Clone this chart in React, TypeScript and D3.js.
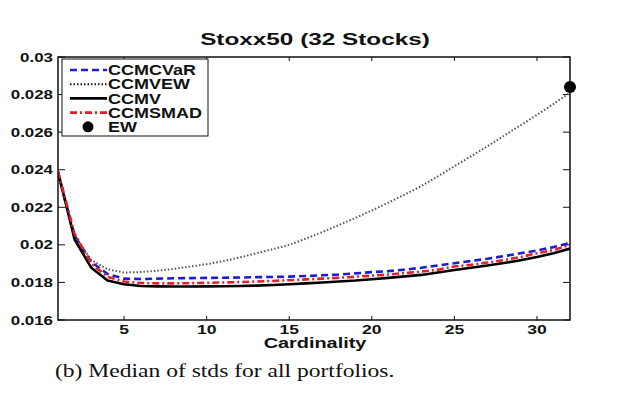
import React, { useEffect, useRef } from "react";
import * as d3 from "d3";

// cardinality (number of stocks in the portfolio)
const cardinality = d3.range(1, 33);

// median std per cardinality
const ccmcvar = [
  0.0238, 0.0205, 0.0191, 0.01845, 0.0182, 0.01818, 0.0182, 0.01822, 0.01823, 0.01824,
  0.01825, 0.01826, 0.01828, 0.01829, 0.01831, 0.01834, 0.01838, 0.01842, 0.01848, 0.01855,
  0.0186, 0.01868, 0.01878, 0.0189, 0.01902, 0.01914, 0.01926, 0.0194, 0.01955, 0.0197,
  0.01988, 0.0201,
];
const ccmvew = [
  0.0237, 0.0205, 0.0192, 0.0187, 0.01853, 0.01855, 0.01862, 0.01872, 0.01884, 0.01897,
  0.01913, 0.01933, 0.01955, 0.01977, 0.02, 0.02033, 0.02068, 0.02105, 0.02143, 0.02183,
  0.02225, 0.02268, 0.02313, 0.02365, 0.02418, 0.02471, 0.02525, 0.02581, 0.02636, 0.02692,
  0.0275, 0.0281,
];
const ccmv = [
  0.0239, 0.0203, 0.0188, 0.0181, 0.0179, 0.01781, 0.01779, 0.01778, 0.01778, 0.01779,
  0.0178, 0.01781, 0.01783, 0.01786, 0.0179, 0.01795, 0.018, 0.01805, 0.0181, 0.01817,
  0.01824, 0.01832, 0.0184, 0.01853, 0.01866, 0.01878, 0.0189, 0.01903, 0.01918, 0.01935,
  0.01955, 0.0198,
];
const ccmsmad = [
  0.0239, 0.0206, 0.019, 0.0183, 0.01805, 0.01797, 0.01795, 0.01795, 0.01796, 0.01798,
  0.018, 0.01802, 0.01805, 0.01808, 0.01812, 0.01816, 0.0182, 0.01825, 0.0183, 0.01836,
  0.01842, 0.0185, 0.01858, 0.01868, 0.01885, 0.01894, 0.01906, 0.01919, 0.01935, 0.01955,
  0.01972, 0.02,
];
// equally weighted portfolio of all 32 stocks
const ewX = [32];
const ewY = [0.0284];

const xTicks = [5, 10, 15, 20, 25, 30];
const yTicks = [0.016, 0.018, 0.02, 0.022, 0.024, 0.026, 0.028, 0.03];

const SERIES = [
  { name: "CCMCVaR", values: ccmcvar, color: "#1c1cd0", width: 2.6, dash: "7,4" },
  { name: "CCMVEW", values: ccmvew, color: "#555", width: 2, dash: "1.5,2" },
  { name: "CCMV", values: ccmv, color: "#000", width: 2.6, dash: null },
  { name: "CCMSMAD", values: ccmsmad, color: "#e0202a", width: 2.6, dash: "7,3,2,3" },
];

const FONT = "'Liberation Sans', Arial, sans-serif";

function App() {
  const svgRef = useRef<SVGSVGElement | null>(null);

  useEffect(() => {
    const root = d3.select(svgRef.current);
    root.selectAll("*").remove();

    const margin = { left: 58, right: 47, top: 57, bottom: 77 };
    const W = 617, H = 397;
    const w = W - margin.left - margin.right;
    const h = H - margin.top - margin.bottom;

    const x = d3.scaleLinear().domain([1, 32]).range([0, w]);
    const y = d3.scaleLinear().domain([0.016, 0.03]).range([h, 0]);
    const fmt = (v: number) => String(+v.toFixed(3));

    const g = root.append("g").attr("transform", `translate(${margin.left},${margin.top})`);

    // stretched text helper (the figure was scaled horizontally)
    const label = (
      parent: d3.Selection<any, any, any, any>,
      str: string,
      tx: number,
      ty: number,
      size: number,
      sx: number,
      anchor = "start",
      weight = "bold",
      family = FONT
    ) =>
      parent
        .append("text")
        .attr("transform", `translate(${tx},${ty}) scale(${sx},1)`)
        .attr("text-anchor", anchor)
        .style("font-family", family)
        .style("font-size", `${size}px`)
        .style("font-weight", weight)
        .style("fill", "#111")
        .text(str);

    // ticks on all four sides, pointing inward
    const tk = g.append("g").attr("stroke", "#111").attr("stroke-width", 1);
    xTicks.forEach((t) => {
      tk.append("line").attr("x1", x(t)).attr("x2", x(t)).attr("y1", h).attr("y2", h - 4);
      tk.append("line").attr("x1", x(t)).attr("x2", x(t)).attr("y1", 0).attr("y2", 4);
      label(g, String(t), x(t), h + 14, 13, 1.35, "middle");
    });
    yTicks.forEach((t) => {
      tk.append("line").attr("x1", 0).attr("x2", 7).attr("y1", y(t)).attr("y2", y(t));
      tk.append("line").attr("x1", w).attr("x2", w - 7).attr("y1", y(t)).attr("y2", y(t));
      label(g, fmt(t), -5, y(t) + 4.5, 13, 1.3, "end");
    });

    // series
    const clip = g.append("clipPath").attr("id", "plotclip");
    clip.append("rect").attr("width", w).attr("height", h);
    const plot = g.append("g").attr("clip-path", "url(#plotclip)");
    SERIES.forEach((s) => {
      const line = d3
        .line<number>()
        .x((_, i) => x(cardinality[i]))
        .y((d) => y(d));
      plot
        .append("path")
        .datum(s.values)
        .attr("d", line)
        .attr("fill", "none")
        .attr("stroke", s.color)
        .attr("stroke-width", s.width)
        .attr("stroke-dasharray", s.dash)
        .attr("stroke-linejoin", "round");
    });
    g.selectAll("circle.ew")
      .data(ewX)
      .join("circle")
      .attr("class", "ew")
      .attr("cx", (d) => x(d))
      .attr("cy", (_, i) => y(ewY[i]))
      .attr("r", 6)
      .attr("fill", "#000");

    // axes box
    g.append("rect")
      .attr("width", w)
      .attr("height", h)
      .attr("fill", "none")
      .attr("stroke", "#111")
      .attr("stroke-width", 1.5);

    // legend
    const lg = g.append("g").attr("transform", "translate(4,2)");
    lg.append("rect")
      .attr("width", 146)
      .attr("height", 77)
      .attr("fill", "#fff")
      .attr("stroke", "#111")
      .attr("stroke-width", 1);
    const rowY = (i: number) => 11 + i * 14.2;
    SERIES.forEach((s, i) => {
      lg.append("line")
        .attr("x1", 8)
        .attr("x2", 45)
        .attr("y1", rowY(i))
        .attr("y2", rowY(i))
        .attr("stroke", s.name === "CCMVEW" ? "#111" : s.color)
        .attr("stroke-width", s.width)
        .attr("stroke-dasharray", s.dash);
      label(lg, s.name, 46, rowY(i) + 5.2, 14.5, 1.24);
    });
    lg.append("circle").attr("cx", 26).attr("cy", rowY(4)).attr("r", 5.5).attr("fill", "#000");
    label(lg, "EW", 46, rowY(4) + 5.2, 14.5, 1.24);

    // title and axis label
    label(g, "Stoxx50 (32 Stocks)", w / 2 + 1, -12, 16, 1.52, "middle");
    label(g, "Cardinality", w / 2 + 1, h + 28, 14, 1.42, "middle");

    // caption below the figure
    label(
      root,
      "(b) Median of stds for all portfolios.",
      55,
      377,
      19,
      1.24,
      "start",
      "normal",
      "'Liberation Serif', 'Times New Roman', serif"
    );
  }, []);

  return (
    <svg
      ref={svgRef}
      width={617}
      height={397}
      style={{ position: "absolute", left: 0, top: 0, background: "#fff" }}
    />
  );
}

export default App;
